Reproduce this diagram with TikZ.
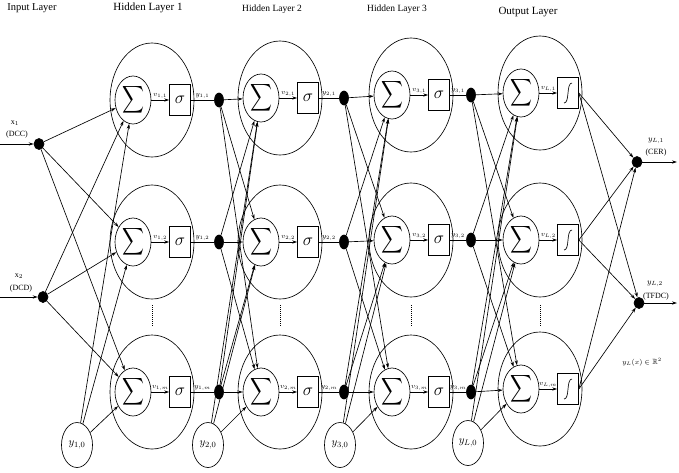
\documentclass[tikz,border=0pt]{standalone}
\usepackage{fontspec}
\setmainfont{Liberation Serif}
\usepackage{amssymb}
\usepackage{graphicx}
\usetikzlibrary{shapes.geometric,arrows.meta,calc}
\newcommand\sumsym{\scalebox{0.8}[1]{\fontsize{19}{19}\selectfont$\displaystyle\sum$}}
\begin{document}
\begin{tikzpicture}[x=1pt,y=-1pt,line width=0.65pt,
  big/.style={ellipse,draw,minimum width=84pt,minimum height=114pt,inner sep=0pt},
  sumn/.style={ellipse,draw,minimum width=36pt,minimum height=48pt,inner sep=0pt},
  actbox/.style={draw,minimum width=21pt,minimum height=31pt,inner sep=0pt},
  dotn/.style={ellipse,draw,fill=black,minimum width=9pt,minimum height=14pt,inner sep=0pt},
  outdot/.style={ellipse,draw,fill=black,minimum width=10pt,minimum height=11pt,inner sep=0pt},
  bias/.style={ellipse,draw,minimum width=31pt,minimum height=45pt,inner sep=0pt,font=\fontsize{11}{12}\selectfont},
  conn/.style={-{Stealth[length=5pt,width=3.2pt]}},
  lab/.style={font=\fontsize{7.5}{8}\selectfont,inner sep=1.5pt},
  head/.style={font=\fontsize{10.5}{12}\selectfont,inner sep=0pt},
  iolab/.style={font=\fontsize{8}{9}\selectfont,inner sep=0pt},
  dots/.style={dash pattern=on 1pt off 1pt,line width=0.9pt}]
\useasboundingbox (0,0) rectangle (679,472);

% headings
\node[head] (h0) at (32,8) {Input Layer};
\node[head,font=\fontsize{11}{12}\selectfont] (h1) at (148,8) {Hidden Layer 1};
\node[head,font=\fontsize{9.5}{11}\selectfont] (h2) at (272,9) {Hidden Layer 2};
\node[head,font=\fontsize{9.5}{11}\selectfont] (h3) at (397,9) {Hidden Layer 3};
\node[head,font=\fontsize{11}{12}\selectfont] (h4) at (528,12) {Output Layer};

% layers
\foreach \L/\lt/\ex/\dx/\ya/\yb/\yc in {1/1/152/67/100/242/392, 2/2/280/64/98/242/392, 3/3/411/60/95/240/392, 4/L/540/0/93/240/389}{
  \foreach \r/\rt/\y in {1/1/\ya, 2/2/\yb, 3/m/\yc}{
    \node[big] (E\L\r) at (\ex,\y) {};
    \node[sumn] (S\L\r) at (\ex-19,\y) {\sumsym};
    \ifnum\L<4
      \node[actbox,font=\fontsize{18}{18}\selectfont] (B\L\r) at (\ex+28,\y) {$\sigma$};
      \node[dotn] (D\L\r) at (\ex+\dx,\y) {};
      \draw (B\L\r) -- node[above,lab]{$y_{\lt,\rt}$} (D\L\r);
    \else
      \node[actbox] (B\L\r) at (\ex+28,\y) {};
      \draw ([shift={(-4,10)}]B\L\r.center) .. controls ([shift={(2,10)}]B\L\r.center) and ([shift={(-2,-10)}]B\L\r.center) .. ([shift={(4,-10)}]B\L\r.center);
    \fi
    \draw[conn] (S\L\r) -- node[above,lab]{$v_{\lt,\rt}$} (B\L\r);
  }
  \coordinate (t\L) at (\ex,305);
  \coordinate (b\L) at (\ex,327);
  \draw[dots] (t\L) -- (b\L);
}

% inputs
\node[outdot] (X1) at (39,144) {};
\node[outdot] (X2) at (43,297) {};
\coordinate (X1s) at (0,144);
\coordinate (X2s) at (0,297);
\draw[conn] (X1s) -- (X1);
\draw[conn] (X2s) -- (X2);
\node[iolab] (x1l) at (15,123) {x$_1$};
\node[iolab] (x1d) at (17,135) {(DCC)};
\node[iolab] (x2l) at (19,276) {x$_2$};
\node[iolab] (x2d) at (21,289) {(DCD)};

% biases
\node[bias] (Y1) at (77,445) {$y_{1,0}$};
\node[bias] (Y2) at (208,445) {$y_{2,0}$};
\node[bias] (Y3) at (340,445) {$y_{3,0}$};
\node[bias] (Y4) at (468,443) {$y_{L,0}$};

% outputs
\node[outdot] (O1) at (637,162) {};
\node[outdot] (O2) at (639,303) {};
\coordinate (O1e) at (677,162);
\coordinate (O2e) at (677,303);
\draw[conn] (O1) -- (O1e);
\draw[conn] (O2) -- (O2e);
\node[iolab] (o1l) at (656,141) {$y_{L,1}$};
\node[iolab] (o1d) at (656,153) {(CER)};
\node[iolab] (o2l) at (655,284) {$y_{L,2}$};
\node[iolab] (o2d) at (656,297) {(TFDC)};
\node[iolab,font=\fontsize{7.5}{9}\selectfont] (yx) at (642,362) {$y_L(x)\in\mathbb{R}^2$};

% connections
\foreach \r in {1,2,3}{
  \draw[conn] (X1) -- (S1\r);
  \draw[conn] (X2) -- (S1\r);
  \draw[conn] (Y1) -- (S1\r);
}
\foreach \L/\M in {1/2,2/3,3/4}{
  \foreach \r in {1,2,3}{
    \foreach \q in {1,2,3}{
      \draw[conn] (D\L\r) -- (S\M\q);
    }
    \draw[conn] (Y\M) -- (S\M\r);
  }
}
\foreach \r in {1,2,3}{
  \draw[conn] (B4\r.east) -- (O1);
  \draw[conn] (B4\r.east) -- (O2);
}
\end{tikzpicture}
\end{document}
